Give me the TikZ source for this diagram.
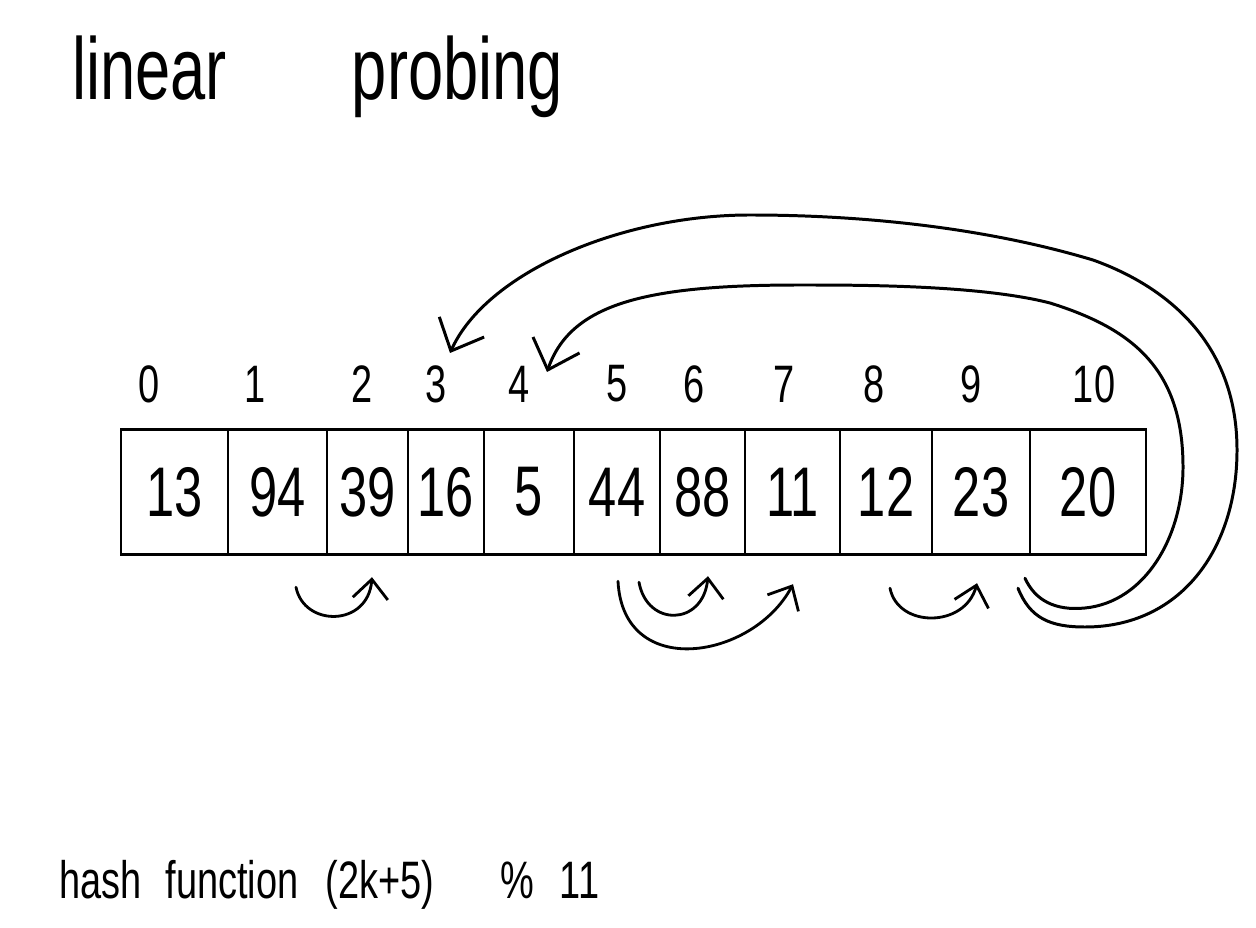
\documentclass[tikz,border=0pt]{standalone}
\usepackage{fontspec}
\newfontfamily\handfont[FakeStretch=0.72]{Liberation Sans}
\usetikzlibrary{arrows.meta, positioning}

\begin{document}
\begin{tikzpicture}[
  x=0.02cm, y=-0.02cm,
  cell/.style={rectangle, draw, line width=1.4pt, minimum height=2.5cm,
    inner sep=0pt, font=\handfont\fontsize{40}{40}\selectfont},
  idx/.style={inner sep=0pt, font=\handfont\fontsize{30}{30}\selectfont},
  probe/.style={-{Straight Barb[length=11pt, width=20pt]}, line width=1.6pt,
    line cap=round},
  wrap/.style={-{Straight Barb[length=15pt, width=28pt]}, line width=1.7pt,
    line cap=round},
  note/.style={anchor=base west, inner sep=0pt}
]
\useasboundingbox (0,0) rectangle (1256,928);

%% Title
\node[note, font=\handfont\fontsize{50}{50}\selectfont] (title) at (72,100)
  {linear\hspace{2.5cm}probing};

%% Table cells + indices
\foreach \i/\l/\r/\v/\ix in {0/121/228/13/149, 1/228/327/94/255,
    2/327/408/39/362, 3/408/484/16/436, 4/484/574/5/519, 5/574/660/44/617,
    6/660/745/88/694, 7/745/840/11/784, 8/840/932/12/874, 9/932/1030/23/971,
    10/1030/1146/20/1094} {
  \pgfmathsetmacro\w{(\r-\l)*0.02}
  \node[cell, minimum width=\w cm] (c\i) at ({(\l+\r)/2},492) {\v};
  \node[idx] (i\i) at (\ix,384) {\i};
}

%% Probes below the table
\draw[probe] ([shift={(18.5,31.5)}]c1.south) .. controls +(8,40) and +(-4,50) .. ([shift={(4.5,21.5)}]c2.south);
\draw[probe] ([shift={(22,26.5)}]c5.south) .. controls +(8,45) and +(-5,50) .. ([shift={(5.5,20.5)}]c6.south);
\draw[probe] ([shift={(1,25.5)}]c5.south) .. controls +(5,100) and +(-40,75) .. ([shift={(0.5,28.5)}]c7.south);
\draw[probe] ([shift={(4,32.5)}]c8.south) .. controls +(8,40) and +(-12,45) .. ([shift={(-4,27.5)}]c9.south);

%% Wrap around from 10
\draw[wrap] ([shift={(-70,32.5)}]c10.south) .. controls +(12,30) and (1050,627) .. (1085,627)
  .. controls (1180,627) and (1237,550) .. (1237,450)
  .. controls (1237,340) and (1163,285) .. (1093,260)
  .. controls (983,227) and (860,215) .. (750,215)
  .. controls (620,215) and (486,273) .. ([shift={(14,-31)}]i3.center);
\draw[wrap] ([shift={(-63,22.5)}]c10.south) .. controls +(10,22) and (1055,611) .. (1085,608)
  .. controls (1145,602) and (1183,537) .. (1183,467)
  .. controls (1183,367) and (1130,328) .. (1050,303)
  .. controls (980,285) and (860,285) .. (800,285)
  .. controls (650,285) and (571,302) .. ([shift={(28,-12)}]i4.center);

%% Hash function
\node[note, font=\handfont\fontsize{30}{30}\selectfont] (hash) at (59,898)
  {hash\hspace{0.48cm}function\hspace{0.54cm}(2k+5)\hspace{1.32cm}\%\hspace{0.52cm}11};

\end{tikzpicture}
\end{document}
